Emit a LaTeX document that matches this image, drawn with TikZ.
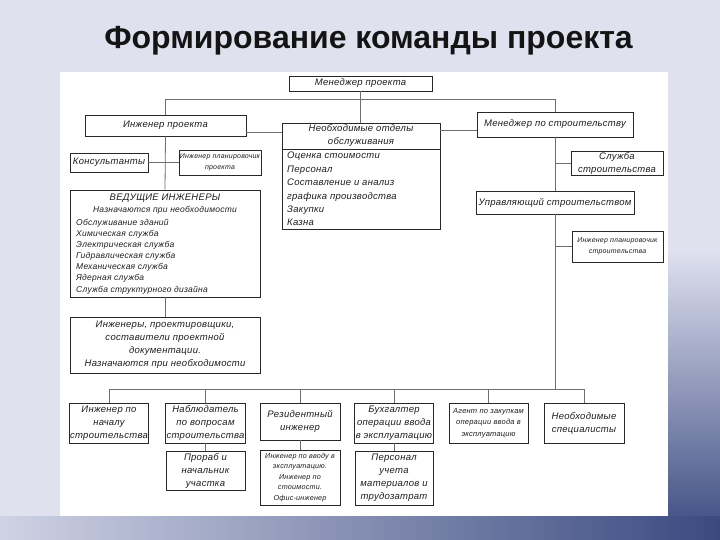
\documentclass[tikz,border=0pt]{standalone}
\usepackage{fontspec}
\setmainfont{Liberation Sans}
\newfontfamily\boxfont[LetterSpace=3]{Liberation Sans}
\newcommand\bxf{\boxfont\itshape\fontsize{9.5}{13}\selectfont}
\newcommand\bxm{\boxfont\itshape\fontsize{8.5}{11.1}\selectfont}
\newcommand\bxs{\boxfont\itshape\fontsize{7}{10.5}\selectfont}
\definecolor{bgc}{RGB}{223,225,239}
\definecolor{navy}{RGB}{58,74,128}
\definecolor{boxc}{RGB}{40,40,40}
\definecolor{lnc}{RGB}{110,110,110}
\definecolor{txc}{RGB}{30,30,30}
\begin{document}
\begin{tikzpicture}[x=1pt,y=-1pt,
  box/.style={draw=boxc, line width=0.9pt, fill=white, inner sep=1pt, align=center, font=\bxf, text=txc},
  lnk/.style={draw=lnc, line width=0.8pt},
  txt/.style={inner sep=0pt, align=left, font=\bxf, text=txc}]
% background
\fill[bgc] (0,0) rectangle (720,540);
\shade[top color=bgc, bottom color=navy] (668,250) rectangle (720,540);
\shade[left color=bgc!90!navy, right color=navy] (0,516) rectangle (720,540);
\fill[white] (60,72) rectangle (668,516);
\useasboundingbox (0,0) rectangle (720,540);
% title
\node[inner sep=0pt, font=\fontsize{32}{38}\selectfont\bfseries, text=black!92] (title) at (368.5,41) {Формирование команды проекта};
% top
\node[box, minimum width=143pt, minimum height=15pt] (mp) at (360.5,83.5) {Менеджер проекта};
\node[box, minimum width=161pt, minimum height=21pt] (ip) at (165.5,125.5) {Инженер проекта};
\node[box, minimum width=158pt, minimum height=106pt] (cd) at (361,176) {};
\node[txt, align=center, anchor=north] (cdh) at (361,124) {Необходимые отделы\\обслуживания};
\draw[draw=boxc, line width=0.9pt] (cd.west |- 0,149) -- (cd.east |- 0,149);
\node[txt, anchor=north west, font=\boxfont\itshape\fontsize{9.5}{13.4}\selectfont] (cdl) at (287,152) {Оценка стоимости\\Персонал\\Составление и анализ\\графика производства\\Закупки\\Казна};
\node[box, minimum width=156pt, minimum height=25pt] (mc) at (555,124.5) {Менеджер по строительству};
% left
\node[box, minimum width=78pt, minimum height=19pt] (kons) at (109,162.5) {Консультанты};
\node[box, minimum width=80pt, minimum height=25pt, font=\bxs] (ipp) at (220,162.5) {Инженер планировочик\\проекта};
\node[box, minimum width=190pt, minimum height=107pt] (vi) at (165,243.5) {};
\node[txt, align=center, anchor=north, font=\boxfont\itshape\fontsize{9.5}{11.5}\selectfont] (vih) at (165,194) {ВЕДУЩИЕ ИНЖЕНЕРЫ\\{\bxm Назначаются при необходимости}};
\node[txt, anchor=north west, font=\bxm] (vil) at (76,219) {Обслуживание зданий\\Химическая служба\\Электрическая служба\\Гидравлическая служба\\Механическая служба\\Ядерная служба\\Служба структурного дизайна};
\node[box, minimum width=190pt, minimum height=56pt] (ipd) at (165,345) {Инженеры, проектировщики,\\составители проектной\\документации.\\Назначаются при необходимости};
% right
\node[box, minimum width=92pt, minimum height=23pt] (ss) at (617,163.5) {Служба\\строительства};
\node[box, minimum width=158pt, minimum height=23pt] (us) at (555,202.5) {Управляющий строительством};
\node[box, minimum width=91pt, minimum height=31pt, font=\bxs] (ips) at (617.5,246.5) {Инженер планировочик\\строительства};
% bottom row
\node[box, minimum width=78pt, minimum height=40pt] (b1) at (109,423) {Инженер по\\началу\\строительства};
\node[box, minimum width=79pt, minimum height=40pt] (b2) at (205.5,423) {Наблюдатель\\по вопросам\\строительства};
\node[box, minimum width=80pt, minimum height=37pt] (b3) at (300,421.5) {Резидентный\\инженер};
\node[box, minimum width=78pt, minimum height=40pt] (b4) at (394,423) {Бухгалтер\\операции ввода\\в эксплуатацию};
\node[box, minimum width=79pt, minimum height=40pt, font=\boxfont\itshape\fontsize{7.5}{11.5}\selectfont] (b5) at (488.5,423) {Агент по закупкам\\операции ввода в\\эксплуатацию};
\node[box, minimum width=80pt, minimum height=40pt] (b6) at (584,423) {Необходимые\\специалисты};
\node[box, minimum width=79pt, minimum height=39pt] (c2) at (205.5,470.5) {Прораб и\\начальник\\участка};
\node[box, minimum width=80pt, minimum height=55pt, font=\boxfont\itshape\fontsize{7.2}{10.5}\selectfont] (c3) at (300,477.5) {Инженер по вводу в\\эксплуатацию.\\Инженер по\\стоимости.\\Офис-инженер};
\node[box, minimum width=78pt, minimum height=54pt] (c4) at (394,478) {Персонал\\учета\\материалов и\\трудозатрат};
% connectors
\coordinate (topbus) at (0,99);
\coordinate (botbus) at (0,389);
\draw[lnk] (mp.south) -- (mp.south |- cd.north);
\draw[lnk] (ip.north) -- (ip.north |- topbus) -- (mc.north |- topbus) -- (mc.north);
\draw[lnk] (ip.east |- 0,132) -- (cd.west |- 0,132);
\draw[lnk] (cd.east |- 0,130) -- (mc.west |- 0,130);
\draw[lnk] (ip.south) -- (vi.north);
\draw[lnk] (kons.east) -- (ipp.west);
\draw[lnk] (vi.south) -- (ipd.north);
\draw[lnk] (mc.south) -- (us.north);
\draw[lnk] (ss.west) -- (ss.west -| mc.south);
\draw[lnk] (us.south) -- (us.south |- botbus);
\draw[lnk] (ips.west) -- (ips.west -| us.south);
\draw[lnk] (b1.north |- botbus) -- (b6.north |- botbus);
\foreach \b in {b1,b2,b3,b4,b5,b6}{\draw[lnk] (\b.north) -- (\b.north |- botbus);}
\draw[lnk] (b2.south) -- (c2.north);
\draw[lnk] (b3.south) -- (c3.north);
\draw[lnk] (b4.south) -- (c4.north);
\end{tikzpicture}
\end{document}
